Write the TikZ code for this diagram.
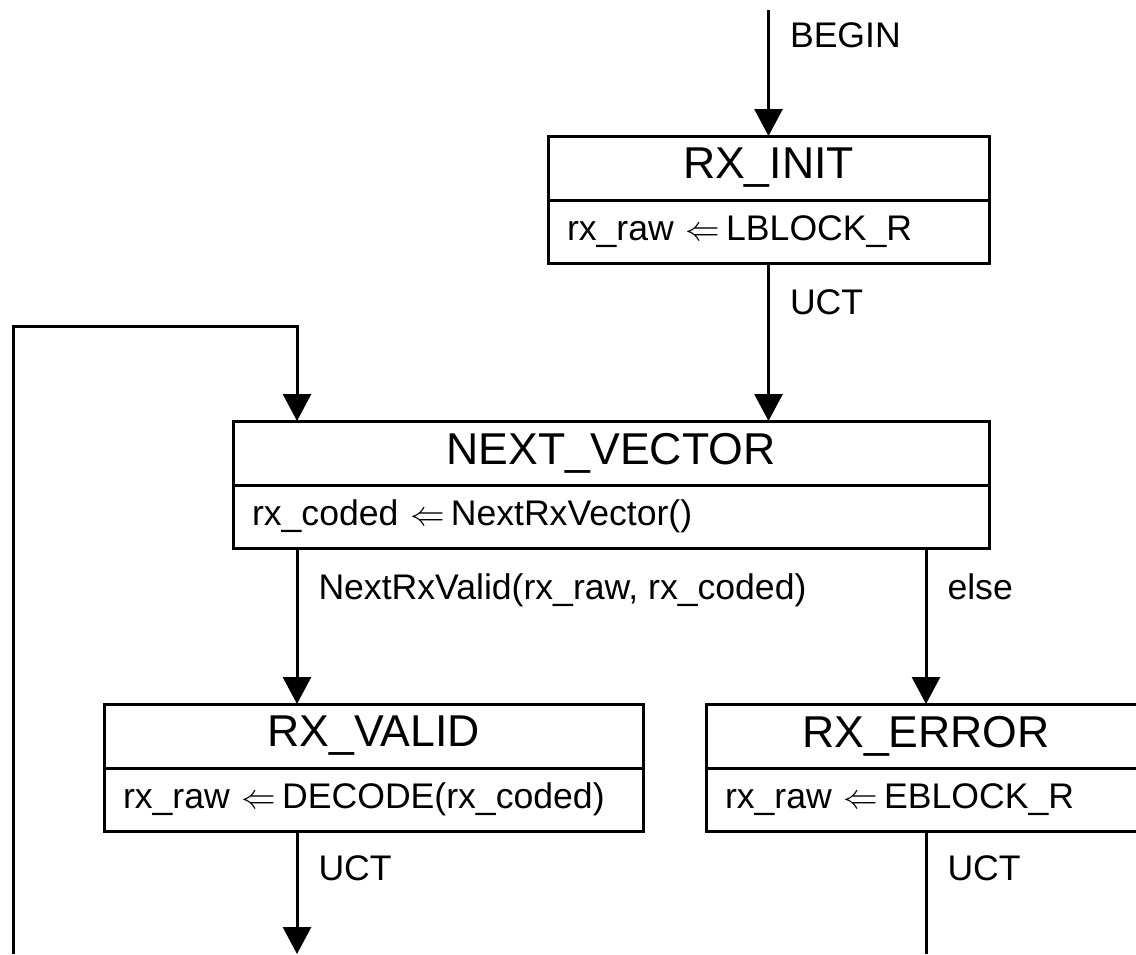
\documentclass[tikz,border=0pt]{standalone}
\usepackage{fontspec}
\setmainfont{Liberation Sans}
\usetikzlibrary{arrows.meta,positioning}
\newcommand{\assign}{~$\Leftarrow$\,}
\tikzset{
	state/.style={draw, line width=1.5pt, minimum width=#1, minimum height=32pt, inner sep=0pt, outer sep=0pt, font=\fontsize{22.3}{26}\selectfont},
	action/.style={draw, line width=1.5pt, text width=#1, minimum height=31.5pt, inner xsep=9.5pt, inner ysep=0pt, outer sep=0pt, align=left, font=\fontsize{17.8}{21}\selectfont},
	trans/.style={anchor=west, inner sep=0pt, xshift=10pt, yshift=-2.75pt, text height=1.5ex, text depth=.25ex, font=\fontsize{17.8}{21}\selectfont},
	flow/.style={line width=1.5pt, -{Triangle[length=13.5pt, width=14pt]}}
}
\begin{document}
\begin{tikzpicture}[x=0.5pt, y=-0.5pt]
		\useasboundingbox (0,0) rectangle (1136,954);
		% states
		\node [state=220.5pt, anchor=north] (init) at (768.5,136) {RX\_INIT};
		\node [action=201.5pt, below=0pt of init] (initb) {\mbox{rx\_raw\assign LBLOCK\_R}};
		\node [state=378pt, anchor=north] (next) at (611,421) {NEXT\_VECTOR};
		\node [action=359pt, below=0pt of next] (nextb) {\mbox{rx\_coded\assign NextRxVector()}};
		\node [state=269.5pt, anchor=north] (valid) at (373.5,704) {RX\_VALID};
		\node [action=250.5pt, below=0pt of valid] (validb) {\mbox{rx\_raw\assign DECODE(rx\_coded)}};
		\node [state=220pt, anchor=north] (error) at (926,704) {RX\_ERROR};
		\node [action=201pt, below=0pt of error] (errorb) {\mbox{rx\_raw\assign EBLOCK\_R}};
		% free ends
		\coordinate (begin) at (768.5,10);
		\coordinate (lx) at (297,954);
		\coordinate (loop) at (13,954);
		\coordinate (top) at (13,326);
		% transitions
		\draw [flow] (begin) -- (init.north) node [trans, pos=0.2] {BEGIN};
		\draw [flow] (initb.south) -- (initb.south |- next.north) node [trans, pos=0.25] {UCT};
		\draw [flow] (loop) -- (top) -| (next.north -| lx);
		\draw [flow] (nextb.south -| lx) -- (valid.north -| lx) node [trans, pos=0.25] {NextRxValid(rx\_raw, rx\_coded)};
		\draw [flow] (nextb.south -| error.north) -- (error.north) node [trans, pos=0.25] {else};
		\draw [flow] (validb.south -| lx) -- (lx) node [trans, pos=0.3] {UCT};
		\draw [line width=1.5pt] (errorb.south) -- (errorb.south |- lx) node [trans, pos=0.3] {UCT};
\end{tikzpicture}
\end{document}
